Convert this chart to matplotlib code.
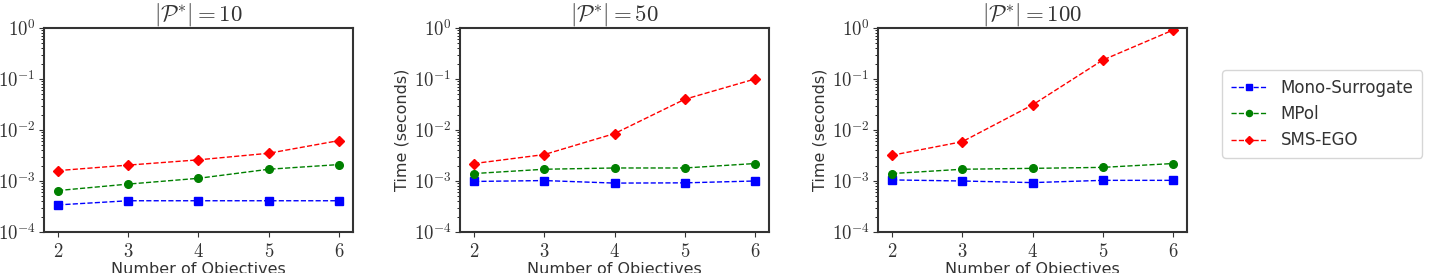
import numpy as np
import matplotlib
matplotlib.use("Agg")
from matplotlib import pyplot as plt

# data
objectives = [2, 3, 4, 5, 6]
sizes = [10, 50, 100]

mono_10 = [3.4e-4, 4.1e-4, 4.1e-4, 4.1e-4, 4.1e-4]
mpol_10 = [6.5e-4, 8.7e-4, 1.13e-3, 1.7e-3, 2.1e-3]
sms_10 = [1.6e-3, 2.05e-3, 2.6e-3, 3.5e-3, 6.2e-3]

mono_50 = [9.8e-4, 1.02e-3, 9.1e-4, 9.2e-4, 1.0e-3]
mpol_50 = [1.4e-3, 1.7e-3, 1.8e-3, 1.8e-3, 2.2e-3]
sms_50 = [2.2e-3, 3.3e-3, 8.5e-3, 0.04, 0.10]

mono_100 = [1.05e-3, 1.0e-3, 9.3e-4, 1.03e-3, 1.03e-3]
mpol_100 = [1.4e-3, 1.7e-3, 1.77e-3, 1.85e-3, 2.2e-3]
sms_100 = [3.2e-3, 5.9e-3, 0.031, 0.235, 0.91]

plt.rcParams['mathtext.fontset'] = 'cm'
plt.rcParams['font.family'] = 'DejaVu Sans'
txt = '#333333'

fig = plt.figure(figsize=(14.31, 2.73), dpi=100)

lefts = [44, 460, 878]
daten = [(mono_10, mpol_10, sms_10),
         (mono_50, mpol_50, sms_50),
         (mono_100, mpol_100, sms_100)]

for i, (links, (mono, mpol, sms)) in enumerate(zip(lefts, daten)):
    ax = fig.add_axes([links / 1431, 41 / 273, 309 / 1431, 204 / 273])
    ax.plot(objectives, mono, 'bs--', lw=1, ms=5.5, label='Mono-Surrogate')
    ax.plot(objectives, mpol, 'o--', color='green', lw=1, ms=5.5, label='MPol')
    ax.plot(objectives, sms, 'rD--', lw=1, ms=5.5, label='SMS-EGO')
    ax.set_yscale('log')
    ax.set_ylim(1e-4, 1)
    ax.set_xlim(1.8, 6.2)
    ax.set_xticks(objectives)
    ax.set_xticklabels(['$%d$' % o for o in objectives])
    ax.set_yticks([1e-4, 1e-3, 1e-2, 1e-1, 1])
    ax.set_yticklabels([r'$10^{%d}$' % e for e in [-4, -3, -2, -1, 0]])
    ax.tick_params(labelsize=13.5, colors=txt)
    ax.tick_params(axis='y', pad=2.5)
    for sp in ax.spines.values():
        sp.set_color(txt)
        sp.set_linewidth(1.5)
    ax.set_title(r'$|\mathcal{P}^{*}| = %d$' % sizes[i], fontsize=16.5, color=txt, pad=2)
    ax.set_xlabel('Number of Objectives', fontsize=11.5, color=txt, labelpad=1)
    if i > 0:
        ax.set_ylabel('Time (seconds)', fontsize=11.5, color=txt, labelpad=3)

griffe, namen = ax.get_legend_handles_labels()
fig.legend(griffe, namen, loc='upper left', bbox_to_anchor=(1214 / 1431, 1 - 62 / 273),
           fontsize=12, labelcolor=txt, handlelength=2.2, borderpad=0.5, markerscale=0.8)

fig.savefig('out.png', dpi=100)
